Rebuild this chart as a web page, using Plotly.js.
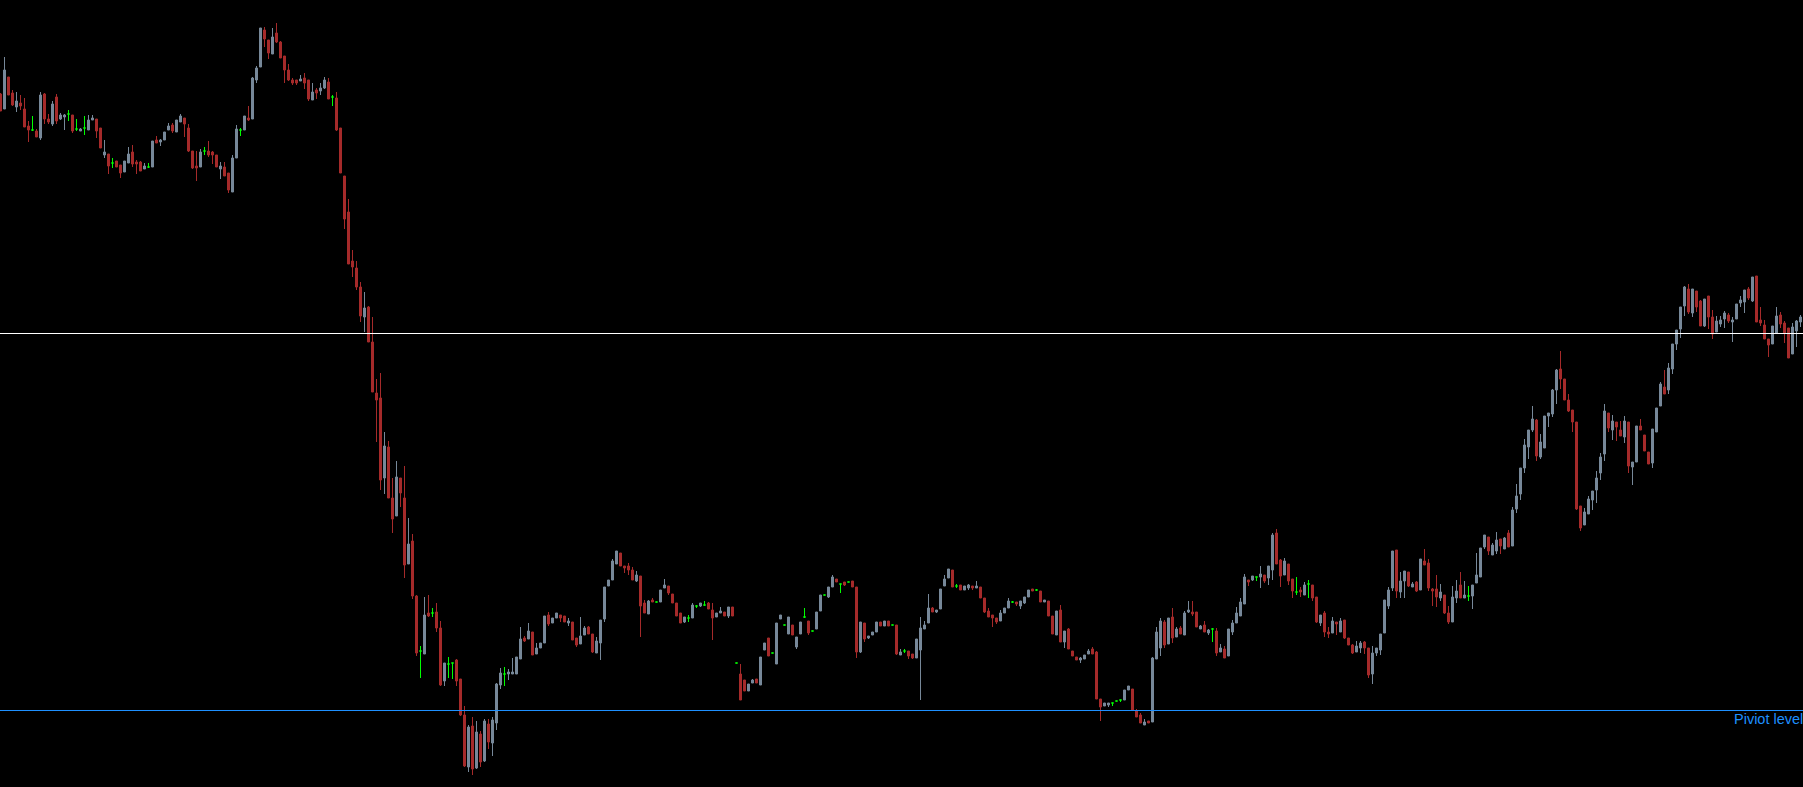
<!DOCTYPE html>
<html>
<head>
<meta charset="utf-8">
<script src="https://cdn.plot.ly/plotly-3.0.1.min.js"></script>
<style>
html,body{margin:0;padding:0;background:#000;overflow:hidden}
#chart{width:1803px;height:787px}
</style>
</head>
<body>
<div id="chart"></div>
<script>
// Bar-by-bar prices (chart units)
const openPrices = [
706,691,723,707,693,697,691,674,670,669,
662,706,681,676,703,681,683,686,685,671,
669,672,670,680,681,672,645,646,637,639,
635,628,637,648,638,638,631,633,633,660,
658,660,670,675,668,678,682,672,649,634,
633,649,649,648,645,631,633,627,608,642,
670,670,682,681,720,733,770,760,746,767,
758,744,730,720,720,719,722,720,700,710,
709,712,718,703,702,672,624,588,539,532,
513,483,493,458,407,402,322,353,302,284,
322,302,236,259,204,149,146,187,187,188,
172,119,136,137,140,121,85,33,74,32,
66,39,76,57,77,115,126,126,126,126,
141,162,161,168,146,152,157,185,177,182,
185,184,177,178,162,156,165,173,166,147,
157,181,214,220,236,247,234,234,230,219,
224,197,186,200,198,198,212,214,206,197,
187,178,182,182,194,194,195,197,190,183,
187,188,184,193,137,126,120,109,117,121,
115,150,162,147,136,181,175,166,175,153,
166,183,179,169,171,189,205,203,213,221,
216,218,218,219,213,148,177,162,165,168,
178,174,179,175,175,145,149,149,146,142,
150,171,177,192,188,191,214,222,230,214,
215,210,212,214,212,213,202,189,185,182,
179,187,192,198,198,194,197,203,211,210,
209,198,199,184,165,190,158,171,149,143,
140,141,146,151,148,101,94,95,97,99,
100,100,110,111,89,85,75,79,78,141,
152,178,156,183,163,172,165,188,188,188,
171,175,167,171,169,148,151,144,168,177,
184,196,220,220,223,223,225,222,230,267,
240,225,236,221,208,210,205,216,215,203,
177,187,168,167,178,168,180,162,155,148,
152,158,152,126,147,150,167,194,212,250,
208,219,228,213,218,210,239,237,211,211,
202,205,187,178,202,215,202,204,204,217,
223,253,263,245,249,261,251,267,254,291,
306,332,353,370,380,343,352,384,386,410,
431,421,400,390,378,294,275,286,300,310,
327,346,387,370,378,370,363,378,333,338,
374,365,348,337,368,394,413,410,431,456,
471,494,511,487,509,499,474,504,483,468,
476,481,485,478,481,497,498,511,499,524,
480,475,461,456,467,485,477,472,446,469,
478
];
const highPrices = [
707,743,723,710,708,705,702,679,684,671,
708,707,686,699,706,687,686,690,685,681,
672,684,685,685,681,672,660,646,642,639,
635,639,653,655,640,639,637,637,659,664,
661,668,677,677,680,686,682,676,649,649,
651,653,659,649,645,638,638,627,645,675,
672,684,694,723,734,772,773,760,772,777,
759,744,736,722,720,725,727,720,717,712,
717,723,722,705,708,672,624,601,550,539,
518,508,494,483,421,427,368,359,322,339,
322,334,282,266,205,154,203,205,192,197,
179,137,143,137,141,121,94,75,83,79,
69,81,81,83,117,132,133,131,142,143,
173,164,177,168,157,157,184,188,182,187,
185,184,182,178,162,183,174,174,166,163,
180,213,220,241,249,247,234,237,233,229,
224,200,200,202,198,210,221,214,206,197,
187,183,185,197,195,197,199,198,197,187,
193,188,193,193,137,136,120,116,121,121,
143,157,162,147,177,185,175,183,175,163,
178,192,179,169,188,205,205,213,225,221,
216,218,218,219,213,178,177,164,168,178,
178,179,179,175,175,151,151,149,146,161,
183,179,206,193,190,211,225,231,230,216,
215,214,216,214,219,213,202,192,185,182,
190,192,202,199,198,199,203,210,211,211,
209,200,199,184,189,195,169,172,149,143,
143,145,151,153,149,101,97,97,97,99,
100,110,114,111,91,87,81,79,143,173,
182,180,182,192,173,174,189,199,199,188,
175,179,171,172,172,156,154,171,180,193,
202,226,220,224,223,234,225,234,267,271,
241,242,236,221,223,213,218,220,215,203,
185,189,173,183,178,182,180,162,156,159,
159,159,152,154,152,166,200,213,249,250,
228,229,228,218,219,241,251,241,212,225,
216,205,194,214,220,228,219,214,215,247,
252,265,263,257,268,261,263,270,293,316,
332,361,370,394,381,366,384,387,411,431,
449,421,406,390,378,294,292,304,309,329,
347,396,387,385,378,379,384,378,338,374,
381,365,348,371,392,418,430,437,456,470,
493,514,516,511,509,500,501,504,490,484,
484,489,487,483,496,504,510,513,523,524,
493,480,461,474,493,488,479,472,477,480,
485
];
const lowPrices = [
689,691,705,694,688,690,673,658,669,663,
660,676,676,674,676,680,670,679,667,669,
669,665,670,680,662,652,642,626,632,633,
622,628,637,633,626,629,631,632,633,657,
654,660,670,667,668,678,663,648,631,619,
633,645,643,636,633,621,624,607,608,642,
664,670,679,681,717,733,753,741,746,757,
742,717,719,715,715,719,711,699,700,701,
705,711,701,694,669,627,571,536,523,510,
478,468,458,408,358,310,306,302,267,284,
293,222,236,201,144,122,146,183,183,168,
114,114,122,121,114,84,33,28,25,31,
33,38,51,44,70,111,114,120,126,126,
141,158,161,145,146,152,157,174,177,182,
178,178,174,160,153,156,165,166,147,147,
140,178,214,220,236,234,227,225,220,218,
163,187,186,198,198,198,212,205,197,184,
177,177,178,182,192,193,194,191,160,183,
187,184,182,184,137,100,109,109,117,117,
115,150,144,147,136,181,175,166,165,151,
166,182,165,169,171,189,205,202,213,218,
207,214,218,213,142,147,158,161,165,168,
174,174,174,175,145,145,147,141,141,142,
100,171,177,188,187,191,214,222,213,212,
210,210,210,210,212,202,187,183,173,176,
179,187,192,197,194,191,196,203,209,209,
198,198,184,166,165,158,152,151,144,140,
137,141,146,146,101,79,94,93,94,99,
98,100,110,90,83,77,75,77,78,141,
144,152,156,157,163,166,165,187,184,173,
171,168,165,158,144,148,142,144,165,177,
184,196,214,219,219,212,217,215,220,236,
213,225,215,202,205,203,205,202,199,177,
174,163,162,167,165,168,161,155,146,148,
147,146,122,116,144,145,167,191,209,202,
202,202,213,213,208,210,235,209,194,193,
199,186,176,178,197,202,202,199,191,217,
223,251,245,245,246,246,251,253,254,287,
300,327,341,368,339,341,352,373,383,396,
411,400,388,368,290,269,275,286,290,297,
320,339,368,360,359,364,357,327,315,338,
370,349,336,332,368,394,406,406,426,450,
462,484,486,483,488,474,473,471,461,468,
473,472,477,458,481,493,487,500,498,478,
474,461,443,456,467,472,457,442,446,453,
473
];
const closePrices = [
689,730,705,695,699,694,673,670,670,663,
705,681,678,696,679,685,685,686,669,671,
671,672,680,682,669,652,648,634,637,633,
627,639,646,636,636,629,634,633,659,657,
660,668,674,669,680,684,676,649,632,632,
648,649,645,645,633,634,624,610,642,671,
670,684,680,722,732,772,761,747,763,758,
742,730,720,717,717,721,717,701,708,707,
712,720,701,703,670,627,581,536,533,513,
484,492,458,408,400,320,354,302,281,323,
307,235,256,204,147,149,185,184,187,172,
115,137,136,137,119,85,34,73,31,68,
38,79,58,80,116,127,126,128,128,143,
161,159,169,145,152,157,184,176,182,187,
182,178,179,160,155,164,172,166,148,159,
180,213,220,239,249,234,232,230,220,225,
194,187,199,198,198,210,215,207,197,184,
177,183,182,195,194,197,195,191,182,187,
189,184,193,184,137,100,109,116,120,117,
143,157,144,147,177,185,175,183,165,163,
178,183,167,169,188,205,205,213,223,218,
216,215,218,213,148,178,161,164,168,178,
174,179,174,175,146,148,149,144,142,161,
172,175,192,188,190,211,221,231,213,214,
210,214,215,212,214,202,188,183,182,178,
187,192,199,198,196,199,203,210,209,210,
198,200,184,166,189,158,169,151,144,140,
142,145,149,146,101,93,97,97,97,99,
100,110,114,90,83,77,78,77,142,168,
179,155,182,162,171,166,187,190,186,173,
174,168,170,171,147,152,142,171,177,187,
198,223,218,224,223,226,219,234,265,236,
224,239,219,209,208,208,215,216,202,178,
185,168,166,179,176,179,162,155,147,154,
157,152,125,147,152,166,200,210,249,209,
219,229,214,216,209,241,235,212,209,203,
208,187,178,203,209,202,205,204,215,225,
252,265,249,255,260,254,262,253,290,304,
332,355,370,381,344,358,384,387,410,430,
421,400,389,378,291,272,288,301,309,322,
343,389,372,379,373,364,379,334,338,374,
370,349,336,371,392,416,406,432,456,470,
493,513,488,511,493,474,501,483,466,479,
480,487,479,480,496,500,510,502,523,478,
477,461,455,474,484,476,467,442,473,479,
483
];

// Horizontal levels
const upperLevel = 466.5;
const pivotLevel = 89.5;
const pivotLabel = 'Piviot level';

// Colours
const bullColor = '#778899';
const bearColor = '#a52a2a';
const dojiColor = '#00ff00';

// Split bars into regular candles and dojis (open == close)
const reg = {x: [], o: [], h: [], l: [], c: []};
const doji = {x: [], o: [], h: [], l: [], c: []};
openPrices.forEach((o, i) => {
  const t = (o === closePrices[i]) ? doji : reg;
  t.x.push(i); t.o.push(o); t.h.push(highPrices[i]); t.l.push(lowPrices[i]); t.c.push(closePrices[i]);
});

const candleTrace = {
  type: 'candlestick',
  x: reg.x, open: reg.o, high: reg.h, low: reg.l, close: reg.c,
  increasing: {line: {color: bullColor, width: 1}, fillcolor: bullColor},
  decreasing: {line: {color: bearColor, width: 1}, fillcolor: bearColor},
  whiskerwidth: 0,
  hoverinfo: 'skip',
  showlegend: false
};
const dojiTrace = {
  type: 'candlestick',
  x: doji.x, open: doji.o, high: doji.h, low: doji.l, close: doji.c,
  increasing: {line: {color: dojiColor, width: 1}, fillcolor: dojiColor},
  decreasing: {line: {color: dojiColor, width: 1}, fillcolor: dojiColor},
  whiskerwidth: 0,
  hoverinfo: 'skip',
  showlegend: false
};

const nBars = openPrices.length;

const layout = {
  width: 1803,
  height: 787,
  margin: {l: 0, r: 0, t: 0, b: 0, pad: 0},
  paper_bgcolor: '#000000',
  plot_bgcolor: '#000000',
  showlegend: false,
  boxgap: 0.5,
  boxgroupgap: 0,
  xaxis: {
    range: [-0.125, nBars - 0.375],
    showgrid: false, zeroline: false, showticklabels: false, showline: false, ticks: '',
    rangeslider: {visible: false},
    fixedrange: true
  },
  yaxis: {
    range: [13, 800],
    showgrid: false, zeroline: false, showticklabels: false, showline: false, ticks: '',
    fixedrange: true
  },
  shapes: [
    {type: 'line', xref: 'paper', x0: 0, x1: 1, yref: 'y', y0: upperLevel, y1: upperLevel,
     line: {color: '#ffffff', width: 1}},
    {type: 'line', xref: 'paper', x0: 0, x1: 1, yref: 'y', y0: pivotLevel, y1: pivotLevel,
     line: {color: '#1e90ff', width: 1}}
  ],
  annotations: [
    {xref: 'paper', x: 1, xanchor: 'right', yref: 'y', y: pivotLevel, yanchor: 'top',
     text: pivotLabel, showarrow: false, xshift: 2, yshift: 2,
     font: {family: 'Liberation Sans, Arial, sans-serif', size: 14.5, color: '#1e90ff'}}
  ]
};

Plotly.newPlot('chart', [candleTrace, dojiTrace], layout, {staticPlot: true, displayModeBar: false});
</script>
</body>
</html>
